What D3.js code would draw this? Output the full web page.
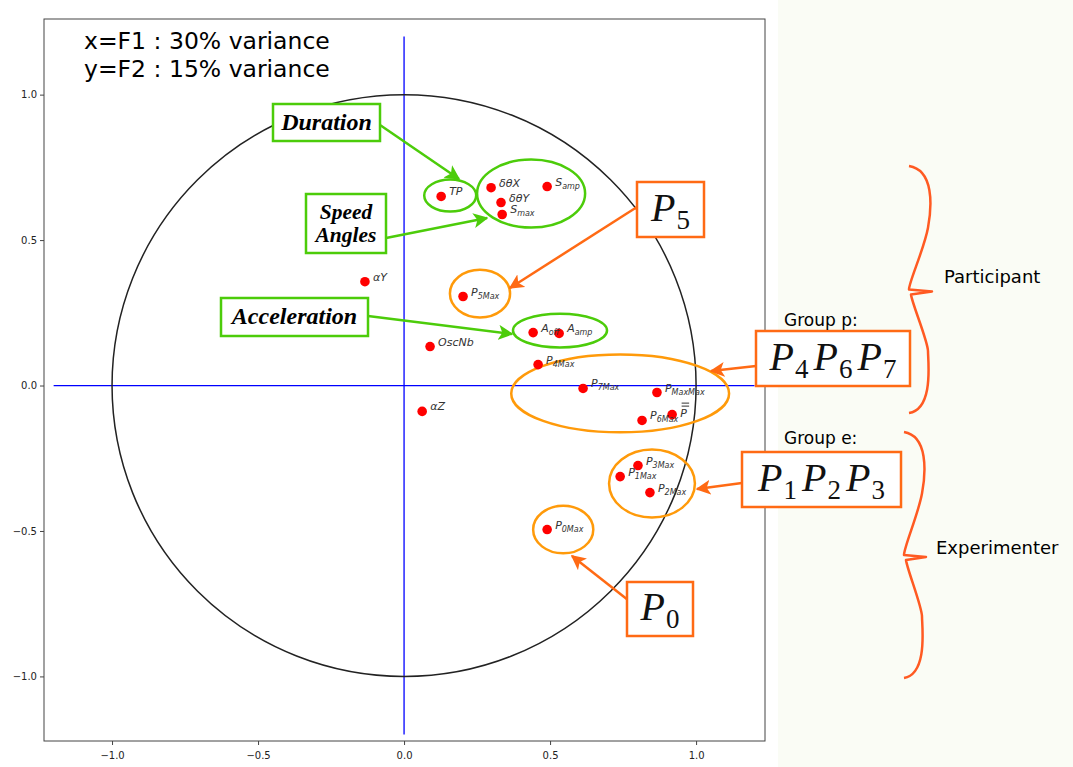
<!DOCTYPE html>
<html><head><meta charset="utf-8">
<script src="https://cdn.jsdelivr.net/npm/d3@7"></script>
<style>
html,body{margin:0;padding:0;background:#fff;}
svg{display:block;}
</style></head>
<body>
<svg id="chart" width="1073" height="767"></svg>
<script>
// ---- data ----
const varMain = ["TP","δθX","S","δθY","S","αY","P","A","A","OscNb","P","P","P","P","P","αZ","P","P","P","P"];
const varSub  = ["","","amp","","max","","5Max","off","amp","","4Max","7Max","MaxMax","","6Max","","3Max","1Max","2Max","0Max"];
const varBar  = [0,0,0,0,0,0,0,0,0,0,0,0,0,1,0,0,0,0,0,0];
const varX = [0.127,0.298,0.490,0.332,0.336,-0.134,0.202,0.442,0.531,0.089,0.459,0.613,0.866,0.918,0.815,0.062,0.801,0.740,0.842,0.490];
const varY = [0.650,0.680,0.684,0.629,0.588,0.357,0.306,0.182,0.179,0.134,0.072,-0.010,-0.024,-0.100,-0.120,-0.089,-0.275,-0.313,-0.368,-0.495];

const xTicks = [-1.0,-0.5,0.0,0.5,1.0];
const yTicks = [-1.0,-0.5,0.0,0.5,1.0];
const titleLines = ["x=F1 : 30% variance","y=F2 : 15% variance"];

// annotation ellipses (data coords)
const ellCX = [0.158,0.435,0.534,0.260,0.740,0.849,0.545];
const ellCY = [0.653,0.660,0.189,0.316,-0.027,-0.337,-0.495];
const ellRX = [0.089,0.185,0.161,0.103,0.373,0.147,0.103];
const ellRY = [0.055,0.117,0.058,0.082,0.134,0.117,0.082];
const ellKind = ["g","g","g","o","o","o","o"];

// ---- drawing ----
const svg = d3.select("#chart");
const W = 1073, H = 767;
const L = 44, R = 765, T = 19, B = 741;
const x = d3.scaleLinear().domain([-1.233,1.236]).range([L,R]);
const y = d3.scaleLinear().domain([-1.222,1.26]).range([B,T]);

const GREEN = "#4ccc0a", ORANGE = "#ff9a0a", ORED = "#ff6a14", BRACE = "#ff5a22";

// right pale background
svg.append("rect").attr("x",778).attr("y",0).attr("width",W-778).attr("height",H).attr("fill","#fafcf5");

// blue axes lines
svg.append("line").attr("x1",x(-1.2)).attr("x2",x(1.2)).attr("y1",y(0)).attr("y2",y(0)).attr("stroke","#0000ff").attr("stroke-width",1.3);
svg.append("line").attr("x1",x(0)).attr("x2",x(0)).attr("y1",y(1.2)).attr("y2",y(-1.2)).attr("stroke","#0000ff").attr("stroke-width",1.3);

// unit circle
svg.append("ellipse").attr("cx",x(0)).attr("cy",y(0)).attr("rx",x(1)-x(0)).attr("ry",y(0)-y(1))
  .attr("fill","none").attr("stroke","#222").attr("stroke-width",1.5);

// frame
svg.append("rect").attr("x",L).attr("y",T).attr("width",R-L).attr("height",B-T).attr("fill","none").attr("stroke","#444").attr("stroke-width",1);

// axes
const fmt = d=>d3.format(".1f")(d).replace("-","\u2212");
const gx = svg.append("g").attr("transform",`translate(0,${B})`)
  .call(d3.axisBottom(x).tickValues(xTicks).tickSize(4).tickSizeOuter(0).tickFormat(fmt));
const gy = svg.append("g").attr("transform",`translate(${L},0)`)
  .call(d3.axisLeft(y).tickValues(yTicks).tickSize(4).tickSizeOuter(0).tickFormat(fmt));
[gx,gy].forEach(g=>{
  g.select(".domain").remove();
  g.selectAll("text").attr("font-family","DejaVu Sans").attr("font-size",10).attr("fill","#222");
  g.selectAll("line").attr("stroke","#444");
});
gx.selectAll("text").attr("dy","1.1em");

// title
svg.selectAll("text.title").data(titleLines).join("text").attr("class","title")
  .attr("x",84).attr("y",(d,i)=>49+i*28).attr("font-family","DejaVu Sans").attr("font-size",23.5).attr("fill","#000").text(d=>d);

// ellipses
svg.selectAll("ellipse.ann").data(ellCX).join("ellipse").attr("class","ann")
  .attr("cx",d=>x(d)).attr("cy",(d,i)=>y(ellCY[i]))
  .attr("rx",(d,i)=>x(ellRX[i])-x(0)).attr("ry",(d,i)=>y(0)-y(ellRY[i]))
  .attr("fill","none").attr("stroke",(d,i)=>ellKind[i]==="g"?GREEN:ORANGE).attr("stroke-width",2.5);

// points
svg.selectAll("circle.pt").data(varX).join("circle").attr("class","pt")
  .attr("cx",d=>x(d)).attr("cy",(d,i)=>y(varY[i])).attr("r",4.8).attr("fill","#ff0000");

// labels
const lab = svg.selectAll("text.lab").data(varX).join("text").attr("class","lab")
  .attr("x",d=>x(d)+8).attr("y",(d,i)=>y(varY[i])-1+(varBar[i]?3:0))
  .attr("font-family","DejaVu Sans").attr("font-style","italic").attr("font-size",11).attr("fill","#333");
lab.each(function(d,i){
  const t = d3.select(this);
  t.append("tspan").text(varMain[i]);
  if (varSub[i]) t.append("tspan").attr("font-size",8).attr("dy",3).text(varSub[i]);
});
// double bar over P-bar label
varBar.forEach((b,i)=>{
  if(!b) return;
  [0,3].forEach(o=>svg.append("line").attr("x1",x(varX[i])+9.5).attr("x2",x(varX[i])+17)
    .attr("y1",y(varY[i])-8.5-o).attr("y2",y(varY[i])-8.5-o).attr("stroke","#333").attr("stroke-width",1));
});

// arrows
const defs = svg.append("defs");
function marker(id,color){
  defs.append("marker").attr("id",id).attr("viewBox","0 0 10 10").attr("refX",9).attr("refY",5)
    .attr("markerWidth",6).attr("markerHeight",6).attr("markerUnits","strokeWidth").attr("orient","auto")
    .append("path").attr("d","M0,0 L10,5 L0,10 L2.5,5 Z").attr("fill",color);
}
marker("ag",GREEN); marker("ao",ORED);
function arrow(x1,y1,x2,y2,color,id){
  svg.append("line").attr("x1",x1).attr("y1",y1).attr("x2",x2).attr("y2",y2)
    .attr("stroke",color).attr("stroke-width",2.5).attr("marker-end",`url(#${id})`);
}
arrow(380,125,459,179,GREEN,"ag");
arrow(386,238,487,218,GREEN,"ag");
arrow(368,316,512,334,GREEN,"ag");
arrow(637,207,510,288,ORED,"ao");
arrow(756,366,711,371,ORED,"ao");
arrow(742,483,697,489,ORED,"ao");
arrow(628,600,572,556,ORED,"ao");

// green boxes
function gbox(x0,y0,w,h,lines,fs,lh){
  svg.append("rect").attr("x",x0).attr("y",y0).attr("width",w).attr("height",h).attr("fill","#fff").attr("stroke",GREEN).attr("stroke-width",2.5);
  lines.forEach((s,i)=>{
    svg.append("text").attr("x",x0+w/2).attr("y",y0+h/2+7+(i-(lines.length-1)/2)*lh)
      .attr("text-anchor","middle")
      .attr("font-family","Liberation Serif").attr("font-style","italic").attr("font-weight","bold").attr("font-size",fs).attr("fill","#000").text(s);
  });
}
gbox(273,104,107,37,["Duration"],24,0);
gbox(306,194,80,59,["Speed","Angles"],21.5,23);
gbox(221,298,147,38,["Acceleration"],24,0);

// orange boxes
function obox(x0,y0,w,h,subs){
  svg.append("rect").attr("x",x0).attr("y",y0).attr("width",w).attr("height",h).attr("fill","#fff").attr("stroke",ORED).attr("stroke-width",2.5);
  const t = svg.append("text").attr("x",x0+w/2).attr("y",y0+h/2+11).attr("text-anchor","middle").attr("font-family","Liberation Serif").attr("font-size",40).attr("fill","#111");
  subs.forEach((s,i)=>{
    t.append("tspan").attr("font-style","italic").attr("dy",i?-8:0).attr("dx",i?5:0).text("P");
    t.append("tspan").attr("font-size",27).attr("dy",8).attr("dx",1).text(s);
  });
}
obox(637,182,67,55,["5"]);
obox(756,331,154,55,["4","6","7"]);
obox(742,452,159,55,["1","2","3"]);
obox(627,582,66,54,["0"]);

// braces
function brace(xl,xr,yt,yb){
  const ym = (yt+yb)/2;
  const d = `M${xl},${yt} C${xr+2},${yt+4} ${xr},${yt+40} ${xr-4},${yt+(ym-yt)*0.5} `+
            `S${xl},${ym-8} ${xl},${ym} L${xr},${ym+2} L${xl+2},${ym+5} `+
            `C${xl+3},${ym+14} ${xr-4},${ym+(yb-ym)*0.5-10} ${xr-4},${ym+(yb-ym)*0.5} `+
            `S${xr+2},${yb-4} ${xl},${yb}`;
  svg.append("path").attr("d",d).attr("fill","none").attr("stroke",BRACE).attr("stroke-width",2.5).attr("stroke-linejoin","round");
}
brace(909,932,166,413);
brace(904,926,432,678);

// side texts
function stext(x0,y0,s,fs){ svg.append("text").attr("x",x0).attr("y",y0).attr("font-family","DejaVu Sans").attr("font-size",fs).attr("fill","#000").text(s); }
stext(944,283,"Participant",18);
stext(936,554,"Experimenter",18);
stext(784,326,"Group p:",17);
stext(784,444,"Group e:",17);
</script>
</body></html>
